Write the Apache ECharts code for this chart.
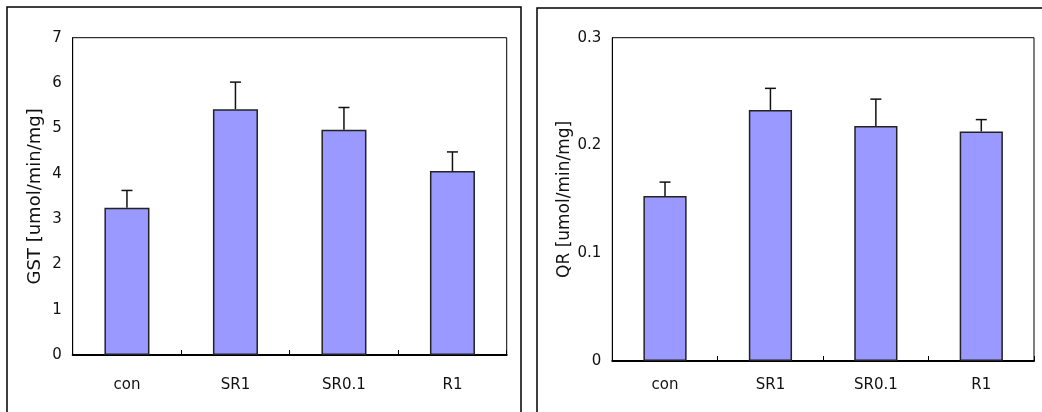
<!DOCTYPE html>
<html>
<head>
<meta charset="utf-8">
<script src="https://cdn.jsdelivr.net/npm/echarts@6/dist/echarts.min.js"></script>
<style>
html,body{margin:0;padding:0;background:#fff;}
#c{width:1042px;height:412px;}
</style>
</head>
<body>
<div id="c"></div>
<script>
var categories = ['con', 'SR1', 'SR0.1', 'R1'];
var gstValues = [3.25, 5.42, 4.97, 4.06];
var gstErrTop = [3.63, 6.02, 5.46, 4.48];
var qrValues = [0.153, 0.233, 0.218, 0.213];
var qrErrTop = [0.166, 0.253, 0.243, 0.224];
var gstTicks = {min: 0, max: 7, interval: 1};
var qrTicks = {min: 0, max: 0.3, interval: 0.1};

var FONT = 'DejaVu Sans';
var chart = echarts.init(document.getElementById('c'), null, {renderer: 'canvas'});

function errSeries(xi, yi, values, tops) {
  return {
    type: 'custom',
    xAxisIndex: xi, yAxisIndex: yi,
    z: 1,
    data: values.map(function (v, i) { return [i, v, tops[i]]; }),
    renderItem: function (params, api) {
      var base = api.coord([api.value(0), api.value(1)]);
      var top = api.coord([api.value(0), api.value(2)]);
      var hw = 5.5;
      var st = {stroke: '#111', lineWidth: 1.5};
      return {
        type: 'group',
        children: [
          {type: 'line', shape: {x1: base[0], y1: base[1], x2: top[0], y2: top[1]}, style: st},
          {type: 'line', shape: {x1: top[0] - hw, y1: top[1], x2: top[0] + hw, y2: top[1]}, style: st}
        ]
      };
    }
  };
}

function xAxis(gi, margin) {
  return {
    type: 'category', gridIndex: gi, data: categories,
    axisLine: {show: true, lineStyle: {color: '#000', width: 2}},
    axisTick: {show: true, inside: true, length: 5, lineStyle: {color: '#000', width: 1}},
    axisLabel: {color: '#111', fontFamily: FONT, fontSize: 15, margin: margin},
    splitLine: {show: false}
  };
}
function yAxis(gi, t, name, gap, nameSize) {
  return {
    type: 'value', gridIndex: gi, min: t.min, max: t.max, interval: t.interval,
    name: name, nameLocation: 'middle', nameGap: gap, nameRotate: 90,
    nameTextStyle: {color: '#111', fontFamily: FONT, fontSize: nameSize},
    axisLine: {show: true, lineStyle: {color: '#000', width: 1}},
    axisTick: {show: false},
    axisLabel: {color: '#111', fontFamily: FONT, fontSize: 15, margin: 11},
    splitLine: {show: false}
  };
}

var barStyle = {color: '#9999FF', borderColor: '#222', borderWidth: 1.5};

chart.setOption({
  animation: false,
  backgroundColor: '#fff',
  graphic: [
    {type: 'rect', shape: {x: 7, y: 7, width: 514, height: 420}, style: {fill: 'none', stroke: '#000', lineWidth: 1.5}, z: -10},
    {type: 'rect', shape: {x: 537, y: 8, width: 520, height: 420}, style: {fill: 'none', stroke: '#000', lineWidth: 1.5}, z: -10}
  ],
  grid: [
    {left: 72.7, right: 535.3, top: 37.7, bottom: 57, show: true, borderColor: '#000', borderWidth: 1, backgroundColor: 'transparent'},
    {left: 612.3, right: 8, top: 37.7, bottom: 51, show: true, borderColor: '#000', borderWidth: 1, backgroundColor: 'transparent'}
  ],
  xAxis: [xAxis(0, 23), xAxis(1, 17)],
  yAxis: [yAxis(0, gstTicks, 'GST [umol/min/mg]', 28.5, 18), yAxis(1, qrTicks, 'QR [umol/min/mg]', 38.5, 17)],
  series: [
    {type: 'bar', xAxisIndex: 0, yAxisIndex: 0, data: gstValues, barWidth: '41.5%', itemStyle: barStyle, z: 2},
    errSeries(0, 0, gstValues, gstErrTop),
    {type: 'bar', xAxisIndex: 1, yAxisIndex: 1, data: qrValues, barWidth: '41%', itemStyle: barStyle, z: 2},
    errSeries(1, 1, qrValues, qrErrTop)
  ]
});
</script>
</body>
</html>
